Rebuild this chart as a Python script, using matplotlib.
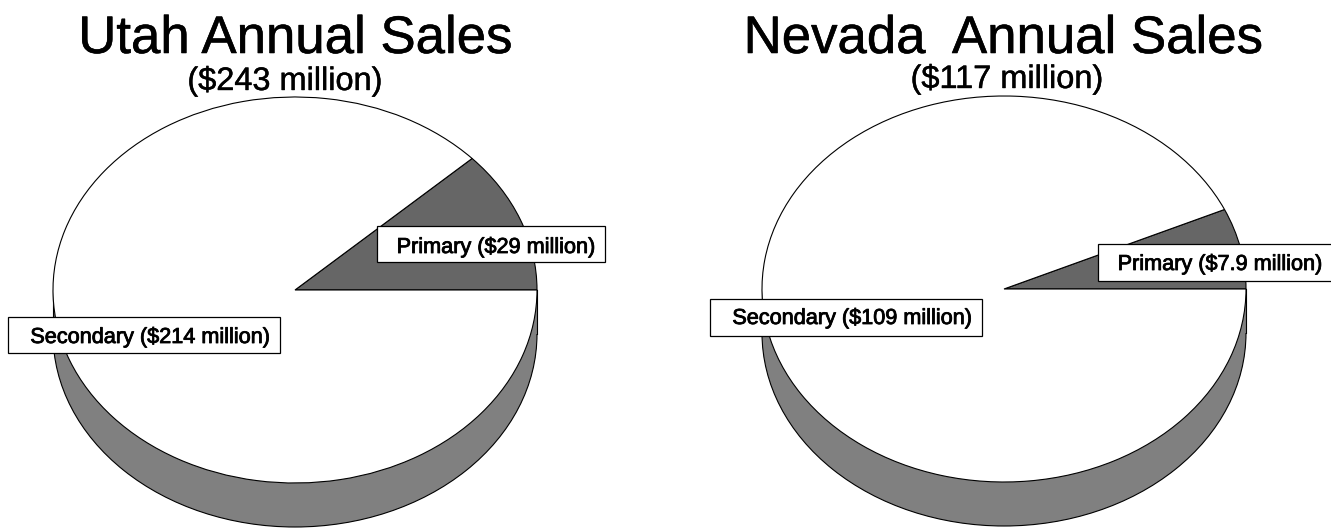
import matplotlib
matplotlib.use("Agg")
import matplotlib.pyplot as plt
import matplotlib.patheffects as pe
from matplotlib.patches import Rectangle, Ellipse

plt.rcParams['font.family'] = ['Liberation Sans', 'DejaVu Sans']

W, H = 1331, 529

# data
utah_values = [29, 214]
nevada_values = [7.9, 109]
utah_title = "Utah Annual Sales"
nevada_title = "Nevada  Annual Sales"
utah_sub = "($243 million)"
nevada_sub = "($117 million)"
utah_labels = ["Primary ($29 million)", "Secondary ($214 million)"]
nevada_labels = ["Primary ($7.9 million)", "Secondary ($109 million)"]

fig = plt.figure(figsize=(W / 100, H / 100), dpi=100)


def draw_pie(values, cx, cy, rx, ry, depth):
    # axes over the whole figure, unit circle comes out as the tilted ellipse
    ax = fig.add_axes([0, 0, 1, 1])
    ax.patch.set_visible(False)
    d = depth / ry
    # side wall first, the top face goes over it
    ax.add_patch(Ellipse((0, -d), 2, 2, fc='#808080', ec='black', lw=0.8, zorder=1))
    ax.add_patch(Rectangle((-1, -d), 2, d, fc='#808080', ec='none', zorder=1))
    ax.plot([-1, -1], [0, -d], color='black', lw=0.8, zorder=2)
    ax.plot([1, 1], [0, -d], color='black', lw=0.8, zorder=2)
    ax.pie(values, colors=['#666666', 'white'], startangle=0, counterclock=True,
           center=(0, 0), radius=1, normalize=True,
           wedgeprops=dict(edgecolor='black', linewidth=0.8, zorder=3))
    ax.set_aspect('auto')
    ax.set_xlim((0 - cx) / rx, (W - cx) / rx)
    ax.set_ylim((cy - H) / ry, cy / ry)
    ax.axis('off')


draw_pie(utah_values, 295, 290, 242, 193, 44)
draw_pie(nevada_values, 1004, 289, 242, 193, 44)

# overlay in pixel coords for the text and label boxes
top = fig.add_axes([0, 0, 1, 1], zorder=10)
top.patch.set_visible(False)
top.set_xlim(0, W)
top.set_ylim(H, 0)
top.axis('off')


def heavy(t, w):
    t.set_path_effects([pe.withStroke(linewidth=w, foreground='black')])


def label(text, x0, x1, y0, y1, tx, ty):
    top.add_patch(Rectangle((x0, y0), x1 - x0, y1 - y0, fc='white', ec='black', lw=0.9))
    t = top.text(tx, ty, text, fontsize=15.6, ha='center', va='baseline', color='black')
    heavy(t, 0.6)


heavy(top.text(295, 53, utah_title, fontsize=38, ha='center', va='baseline'), 0.4)
heavy(top.text(1003, 53, nevada_title, fontsize=38, ha='center', va='baseline'), 0.4)
heavy(top.text(285, 90, utah_sub, fontsize=23.4, ha='center', va='baseline'), 0.3)
heavy(top.text(1007, 88, nevada_sub, fontsize=23.4, ha='center', va='baseline'), 0.3)

label(utah_labels[0], 377, 605, 226, 262, 496, 253)
label(utah_labels[1], 8, 280, 317, 353, 150, 343)
label(nevada_labels[0], 1098, 1340, 244, 281, 1220, 270)
label(nevada_labels[1], 710, 982, 299, 336, 852, 324)

fig.savefig("out.png", dpi=100)
